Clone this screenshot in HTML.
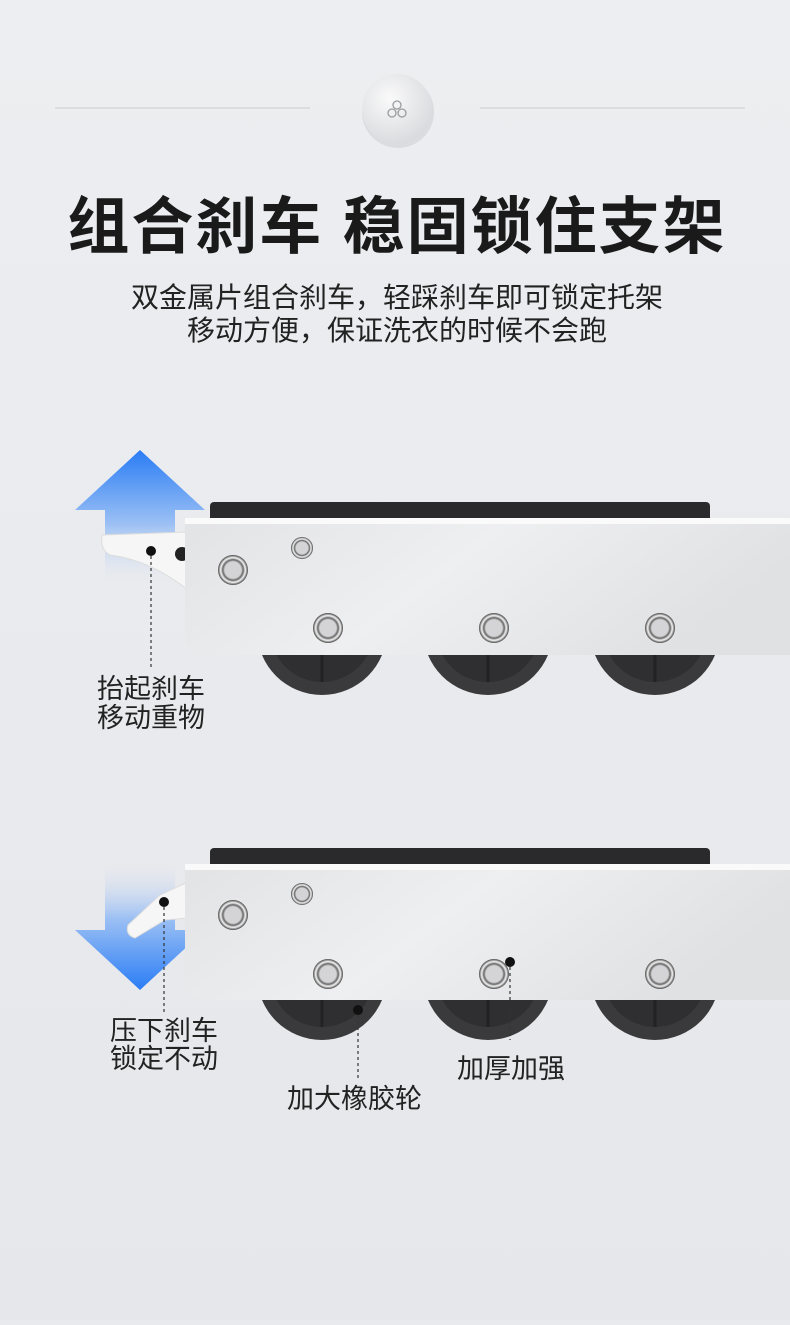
<!DOCTYPE html>
<html><head><meta charset="utf-8"><style>
html,body{margin:0;padding:0;background:#e9eaee;}
body{width:790px;height:1320px;overflow:hidden;font-family:"Liberation Sans","Noto Sans CJK SC",sans-serif;}
</style></head><body>
<svg width="790" height="1320" viewBox="0 0 790 1320" xmlns="http://www.w3.org/2000/svg" font-family="'Liberation Sans','Noto Sans CJK SC',sans-serif">
<defs>
<linearGradient id="bg" x1="0" y1="0" x2="0" y2="1"><stop offset="0" stop-color="#eceef1"/><stop offset="1" stop-color="#e6e7eb"/></linearGradient>
<radialGradient id="ic" cx="0.4" cy="0.35" r="0.7"><stop offset="0" stop-color="#fafafa"/><stop offset="1" stop-color="#d8d9dd"/></radialGradient>
<linearGradient id="up" x1="0" y1="0" x2="0" y2="1"><stop offset="0" stop-color="#2a7df5"/><stop offset="0.55" stop-color="#9cc0f4"/><stop offset="1" stop-color="#e9eaee" stop-opacity="0"/></linearGradient>
<linearGradient id="dn" x1="0" y1="1" x2="0" y2="0"><stop offset="0" stop-color="#2a7df5"/><stop offset="0.55" stop-color="#9cc0f4"/><stop offset="1" stop-color="#e9eaee" stop-opacity="0"/></linearGradient>
<linearGradient id="pl" x1="0" y1="0" x2="1" y2="0.3"><stop offset="0" stop-color="#e2e3e5"/><stop offset="0.5" stop-color="#eeeff0"/><stop offset="1" stop-color="#e0e1e3"/></linearGradient>
<radialGradient id="bolt" cx="0.5" cy="0.5" r="0.5"><stop offset="0.55" stop-color="#d4d4d6"/><stop offset="0.68" stop-color="#666"/><stop offset="0.82" stop-color="#f6f6f6"/><stop offset="0.93" stop-color="#888"/><stop offset="1" stop-color="#444"/></radialGradient>
</defs>
<rect width="790" height="1320" fill="url(#bg)"/>
<line x1="55" y1="108" x2="310" y2="108" stroke="#d6d8dc" stroke-width="1.5"/>
<line x1="480" y1="108" x2="745" y2="108" stroke="#d6d8dc" stroke-width="1.5"/>
<circle cx="398" cy="112" r="36" fill="#cfd0d4" opacity="0.6"/>
<circle cx="397" cy="109" r="35" fill="url(#ic)"/>
<g fill="none" stroke="#9a9ca0" stroke-width="1.3"><circle cx="397" cy="105" r="4"/><circle cx="392" cy="113" r="4"/><circle cx="402" cy="113" r="4"/></g>
<text x="397" y="248" text-anchor="middle" font-size="62" font-weight="bold" fill="#1a1a1a" letter-spacing="2">组合刹车  稳固锁住支架</text>
<text x="397" y="307" text-anchor="middle" font-size="28" fill="#222">双金属片组合刹车，轻踩刹车即可锁定托架</text>
<text x="397" y="340" text-anchor="middle" font-size="28" fill="#222">移动方便，保证洗衣的时候不会跑</text>

<!-- cart 1 -->
<g>
<path d="M140 450 L205 510 L175 510 L175 585 L105 585 L105 510 L75 510 Z" fill="url(#up)"/>
<g fill="#3a3a3c"><circle cx="322" cy="630" r="65"/><circle cx="488" cy="630" r="65"/><circle cx="655" cy="630" r="65"/></g>
<g fill="#2f2f31"><circle cx="322" cy="630" r="52"/><circle cx="488" cy="630" r="52"/><circle cx="655" cy="630" r="52"/></g>
<g stroke="#222" stroke-width="3"><line x1="322" y1="655" x2="322" y2="682"/><line x1="488" y1="655" x2="488" y2="682"/><line x1="655" y1="655" x2="655" y2="682"/></g>
<rect x="210" y="502" width="500" height="20" rx="4" fill="#2a2a2c"/>
<path d="M102 535 L188 532 L188 590 Q150 560 110 555 Q100 550 102 535 Z" fill="#f6f6f6" stroke="#ddd"/>
<circle cx="182" cy="554" r="7" fill="#222"/>
<path d="M185 518 L790 518 L790 655 L205 655 Q185 655 185 635 Z" fill="url(#pl)"/>
<rect x="185" y="518" width="605" height="6" fill="#fafafa"/>
<circle cx="233" cy="570" r="15" fill="url(#bolt)"/><circle cx="302" cy="548" r="11" fill="url(#bolt)"/>
<circle cx="328" cy="628" r="15" fill="url(#bolt)"/><circle cx="494" cy="628" r="15" fill="url(#bolt)"/><circle cx="660" cy="628" r="15" fill="url(#bolt)"/>
<circle cx="151" cy="551" r="5" fill="#111"/>
<line x1="151" y1="556" x2="151" y2="670" stroke="#333" stroke-width="1.2" stroke-dasharray="3,3"/>
<text x="97" y="698" font-size="27" fill="#222">抬起刹车</text>
<text x="97" y="727" font-size="27" fill="#222">移动重物</text>
</g>

<!-- cart 2 -->
<g>
<path d="M105 860 L175 860 L175 930 L205 930 L140 990 L75 930 L105 930 Z" fill="url(#dn)"/>
<g fill="#3a3a3c"><circle cx="322" cy="975" r="65"/><circle cx="488" cy="975" r="65"/><circle cx="655" cy="975" r="65"/></g>
<g fill="#2f2f31"><circle cx="322" cy="975" r="52"/><circle cx="488" cy="975" r="52"/><circle cx="655" cy="975" r="52"/></g>
<g stroke="#222" stroke-width="3"><line x1="322" y1="1000" x2="322" y2="1027"/><line x1="488" y1="1000" x2="488" y2="1027"/><line x1="655" y1="1000" x2="655" y2="1027"/></g>
<rect x="210" y="848" width="500" height="20" rx="4" fill="#2a2a2c"/>
<path d="M188 882 L160 895 L128 925 Q125 935 135 938 L165 920 L188 918 Z" fill="#f6f6f6" stroke="#ddd"/>
<path d="M185 864 L790 864 L790 1000 L205 1000 Q185 1000 185 980 Z" fill="url(#pl)"/>
<rect x="185" y="864" width="605" height="6" fill="#fafafa"/>
<circle cx="233" cy="915" r="15" fill="url(#bolt)"/><circle cx="302" cy="894" r="11" fill="url(#bolt)"/>
<circle cx="328" cy="974" r="15" fill="url(#bolt)"/><circle cx="494" cy="974" r="15" fill="url(#bolt)"/><circle cx="660" cy="974" r="15" fill="url(#bolt)"/>
<circle cx="164" cy="902" r="5" fill="#111"/>
<line x1="164" y1="907" x2="164" y2="1015" stroke="#333" stroke-width="1.2" stroke-dasharray="3,3"/>
<circle cx="510" cy="962" r="5" fill="#111"/>
<line x1="510" y1="967" x2="510" y2="1040" stroke="#333" stroke-width="1.2" stroke-dasharray="3,3"/>
<circle cx="358" cy="1010" r="5" fill="#111"/>
<line x1="358" y1="1015" x2="358" y2="1080" stroke="#333" stroke-width="1.2" stroke-dasharray="3,3"/>
<text x="110" y="1040" font-size="27" fill="#222">压下刹车</text>
<text x="110" y="1068" font-size="27" fill="#222">锁定不动</text>
<text x="457" y="1078" font-size="27" fill="#222">加厚加强</text>
<text x="287" y="1108" font-size="27" fill="#222">加大橡胶轮</text>
</g>
</svg>
</body></html>
